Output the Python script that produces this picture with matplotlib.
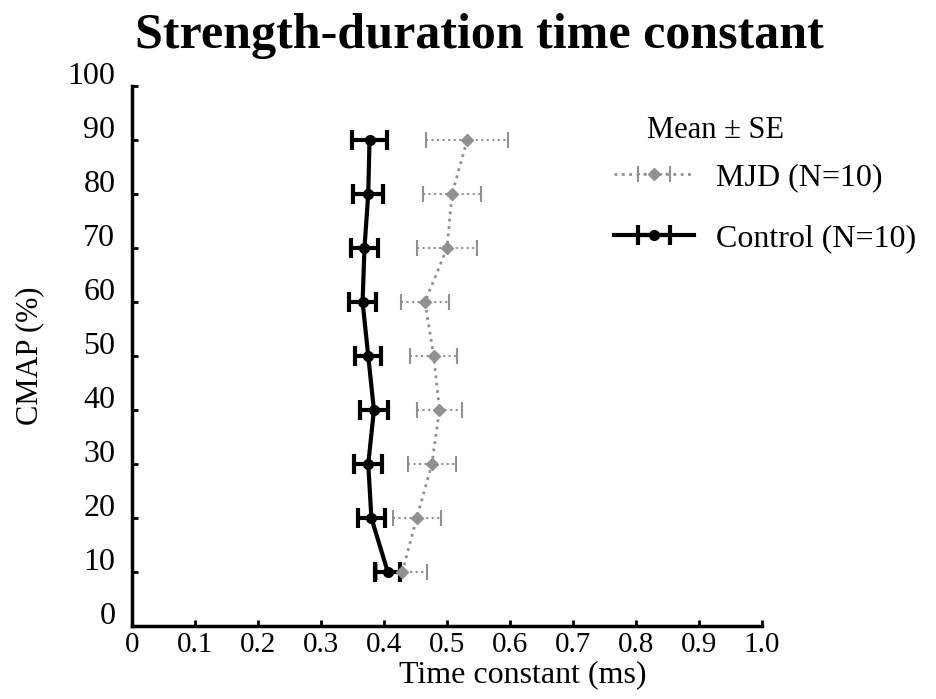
import numpy as np
import matplotlib.pyplot as plt
import matplotlib.transforms as mtransforms

# Values
cmap_pct = [90, 80, 70, 60, 50, 40, 30, 20, 10]
control_tau = [0.377, 0.375, 0.369, 0.366, 0.375, 0.384, 0.375, 0.380, 0.406]
control_se = [0.027, 0.024, 0.022, 0.022, 0.021, 0.022, 0.022, 0.022, 0.020]
mjd_tau = [0.532, 0.508, 0.500, 0.465, 0.479, 0.488, 0.476, 0.452, 0.429]
mjd_se = [0.065, 0.046, 0.047, 0.038, 0.037, 0.036, 0.038, 0.038, 0.040]

xticks = [0, 0.1, 0.2, 0.3, 0.4, 0.5, 0.6, 0.7, 0.8, 0.9, 1.0]
xtick_labels = ['0', '0.1', '0.2', '0.3', '0.4', '0.5', '0.6', '0.7', '0.8', '0.9', '1.0']
yticks = list(range(0, 101, 10))

plt.rcParams['font.family'] = ['Liberation Serif', 'DejaVu Serif']

fig = plt.figure(figsize=(9.37, 6.99), dpi=100)
ax = fig.add_axes([132 / 937, 1 - 626 / 699, 630 / 937, 540 / 699])

mjd = ax.errorbar(mjd_tau, cmap_pct, xerr=mjd_se, color='#909090', ls=':', lw=2,
                  marker='D', ms=6, capsize=6, capthick=1.5, elinewidth=1.5,
                  label='MJD (N=10)')
for b in mjd[2]:
    b.set_linestyle(':')

ctl = ax.errorbar(control_tau, cmap_pct, xerr=control_se, color='black', ls='-', lw=3,
                  marker='o', ms=7, capsize=7, capthick=3, elinewidth=3,
                  label='Control (N=10)')

ax.set_xlim(0, 1.0)
ax.set_ylim(0, 100)
ax.set_xticks(xticks)
ax.set_xticklabels(xtick_labels)
ax.set_yticks(yticks)

ax.spines['top'].set_visible(False)
ax.spines['right'].set_visible(False)
ax.spines['left'].set_linewidth(2.5)
ax.spines['bottom'].set_linewidth(2.5)
ax.tick_params(direction='in', length=4, width=2)
ax.tick_params(axis='x', labelsize=21, pad=4)
ax.tick_params(axis='y', labelsize=23, pad=12)

# y tick labels sit a bit above their ticks in the original
offset = mtransforms.ScaledTranslation(0, 13 / 100, fig.dpi_scale_trans)
for lbl in ax.get_yticklabels():
    lbl.set_transform(lbl.get_transform() + offset)

ax.set_xlabel('Time constant (ms)', fontsize=23)
ax.xaxis.set_label_coords(0.62, -0.063)
ax.set_ylabel('CMAP (%)', fontsize=22)
ax.yaxis.set_label_coords(-0.14, 0.5)

fig.text(0.512, 1 - 36 / 699, 'Strength-duration time constant', fontsize=36,
         fontweight='bold', ha='center', va='center')

fig.text(647 / 937, 1 - 130 / 699, 'Mean ± SE', fontsize=22, ha='left', va='center')
ax.legend(handles=[mjd, ctl], frameon=False, fontsize=23, loc='upper left',
          bbox_to_anchor=(614 / 937, 1 - 163 / 699), bbox_transform=fig.transFigure,
          borderpad=0, borderaxespad=0, handlelength=2.5, handletextpad=0.7,
          labelspacing=1.0)

fig.savefig('out.png', dpi=100)
